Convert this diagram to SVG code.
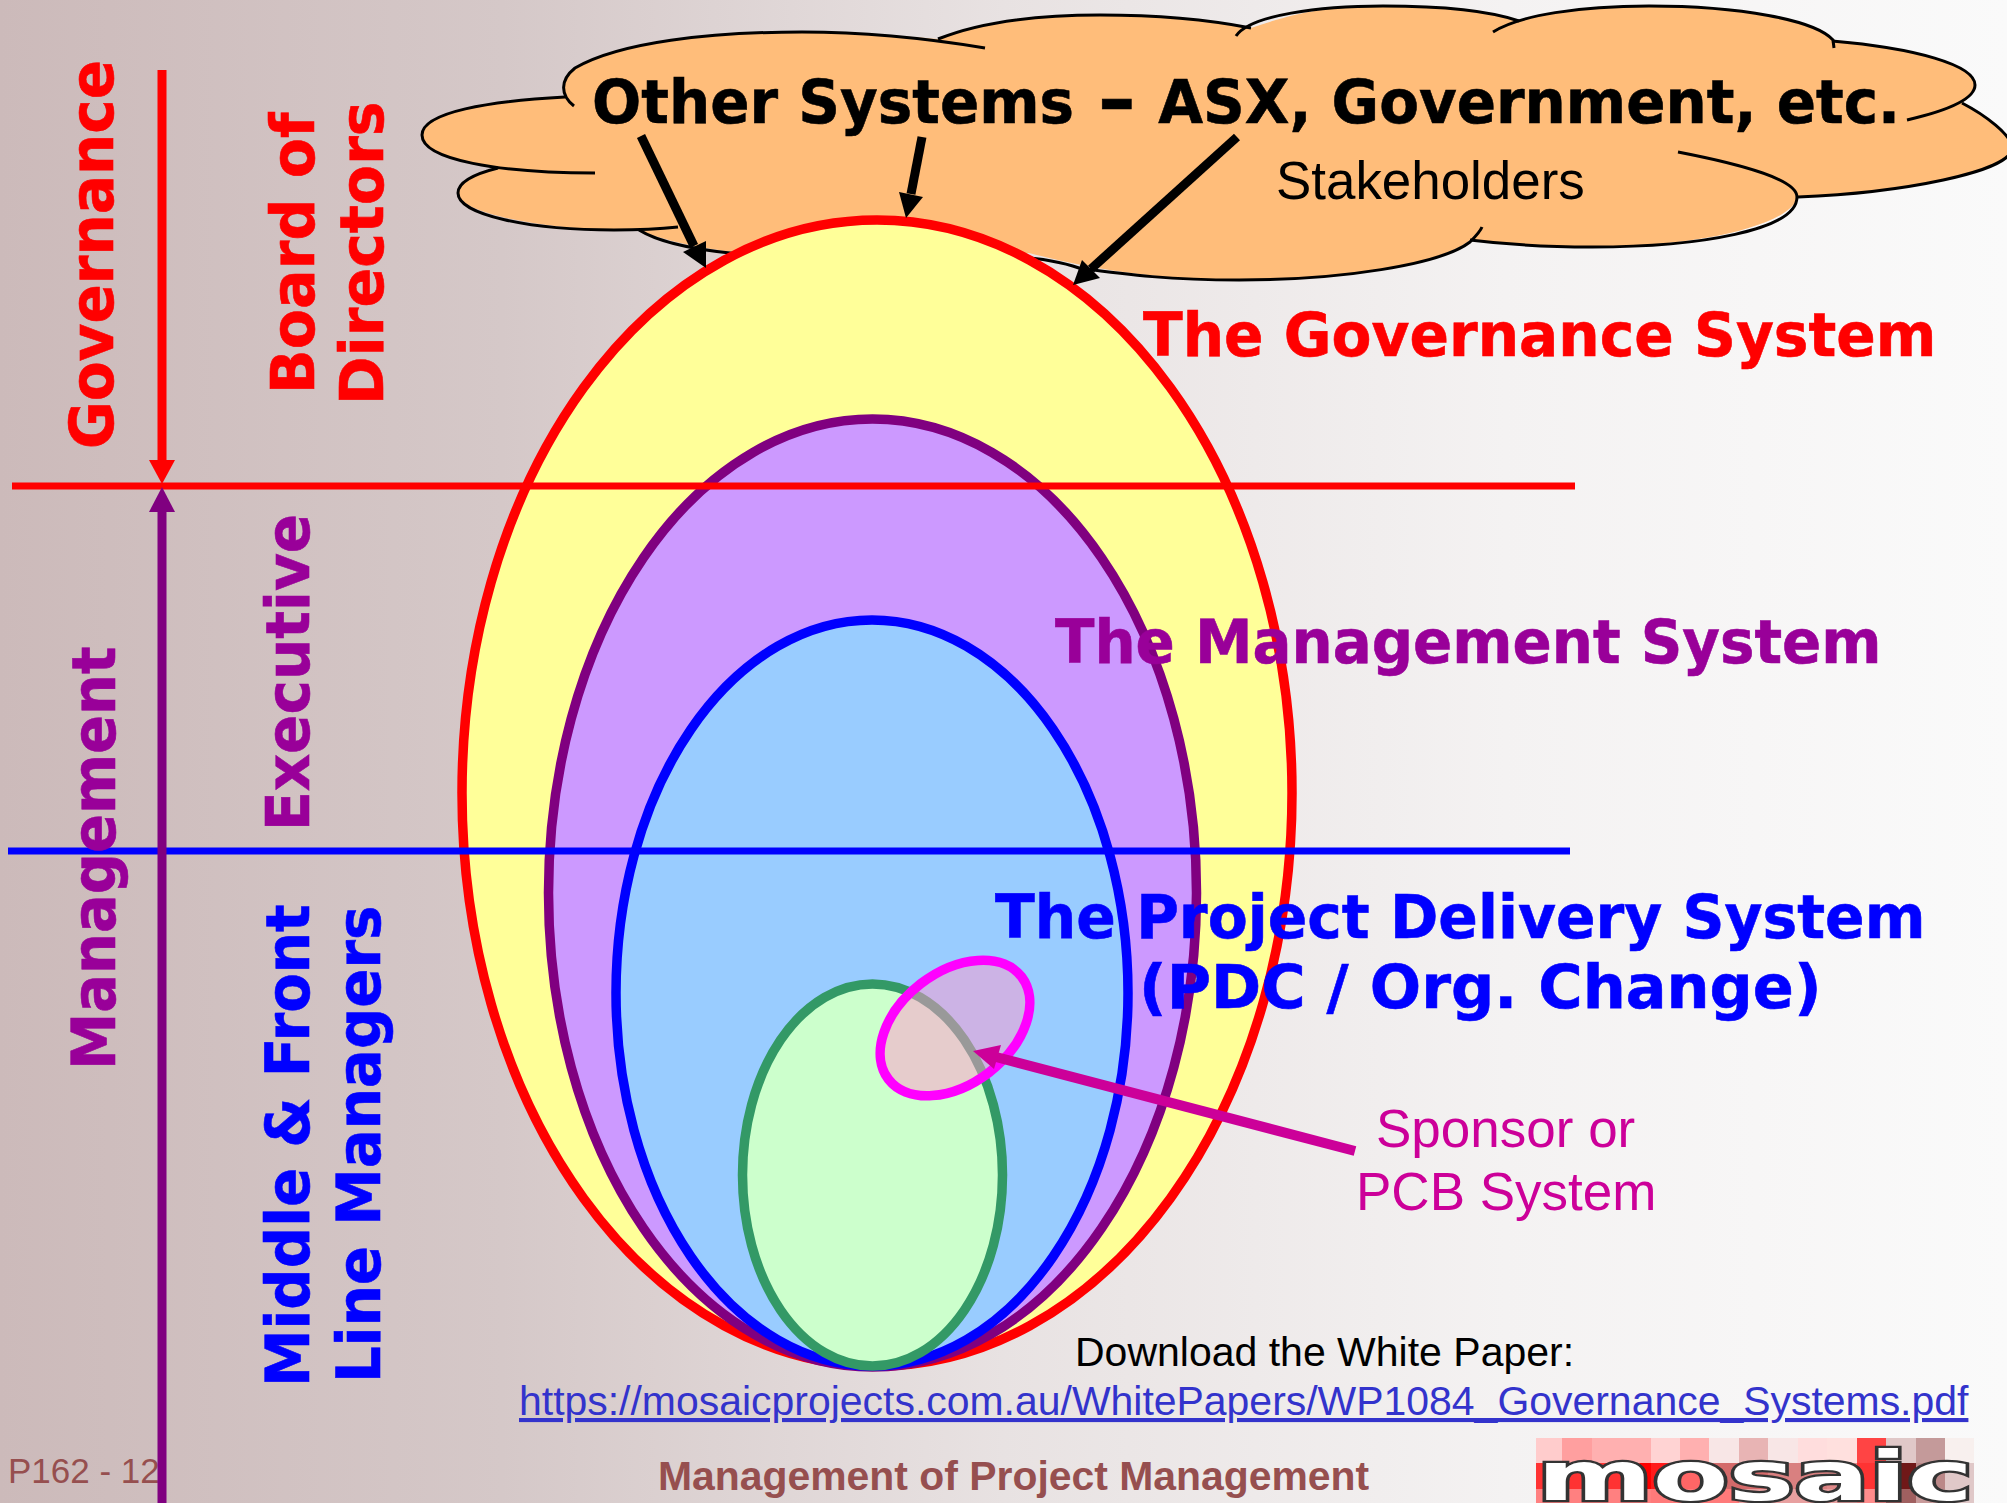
<svg xmlns="http://www.w3.org/2000/svg" width="2007" height="1503" viewBox="0 0 2007 1503">
<style>
.h{font-family:"DejaVu Sans",sans-serif;font-weight:700;font-size:60px;stroke-width:.6}
.b{font-family:"Liberation Sans",Arial,sans-serif}
.r{fill:#ff0000;stroke:#ff0000}
.p{fill:#990099;stroke:#990099}
.u{fill:#0000ff;stroke:#0000ff}
.k{fill:#000;stroke:#000}
.cl{fill:none;stroke:#000;stroke-width:3}
.e{stroke-width:9.5}
.m{fill:#cc0099;font-size:53px}
.f{fill:#964f4f}
</style>
<defs>
<linearGradient id="bg" x1="0" x2="1" y1="0" y2="0">
<stop offset="0" stop-color="#ccbaba"/><stop offset="0.25" stop-color="#d5c8c8"/><stop offset="0.5" stop-color="#e8e2e2"/><stop offset="0.75" stop-color="#f4f2f2"/><stop offset="1" stop-color="#fafafa"/>
</linearGradient>
</defs>
<rect width="2007" height="1503" fill="url(#bg)"/>
<g id="cloud">
<path fill="#ffbd7a" d="M574 106C560 95 560 80 575 68C620 42 710 32 802 32C860 32 900 36 938 39C980 22 1040 15 1100 15C1160 15 1210 20 1251 28C1290 15 1320 6 1383 6C1440 6 1490 11 1519 21C1550 12 1580 6 1649 6C1740 6 1815 20 1833 40C1915 48 1975 65 1975 85C1975 92 1970 98 1962 103C1985 115 2012 135 2012 148C2012 172 1900 193 1798 197C1790 225 1700 247 1592 247C1550 247 1510 245 1470 240C1440 265 1340 280 1239 280C1170 280 1100 272 1029 253C900 262 720 265 639 230C560 232 458 215 458 193C458 184 470 175 498 168C450 160 422 150 422 135C422 112 490 101 565 97Z"/>
<path class="cl" d="M574 106C560 95 560 80 575 68C620 42 710 32 802 32C860 32 925 38 985 48"/>
<path class="cl" d="M565 97C490 101 422 112 422 135C422 160 500 173 595 173"/>
<path class="cl" d="M498 168C470 175 458 184 458 193C458 215 530 230 614 230C640 230 660 229 678 227"/>
<path class="cl" d="M639 230C660 243 700 250 730 253C850 270 1000 240 1079 268C1130 275 1170 280 1239 280C1340 280 1440 265 1470 242C1476 236 1480 232 1482 227"/>
<path class="cl" d="M1470 240C1510 245 1550 247 1592 247C1700 247 1797 230 1797 197C1797 180 1745 165 1678 152"/>
<path class="cl" d="M1798 197C1900 193 2012 172 2012 148C2012 135 1985 115 1962 103"/>
<path class="cl" d="M1907 120C1950 110 1975 98 1975 85C1975 65 1915 48 1832 41"/>
<path class="cl" d="M1834 48L1833 40C1815 20 1740 6 1649 6C1580 6 1520 15 1493 32"/>
<path class="cl" d="M1519 21C1490 11 1440 6 1383 6C1320 6 1250 15 1236 36"/>
<path class="cl" d="M1251 28C1210 20 1160 15 1100 15C1040 15 980 22 938 39"/>
<text class="b" x="1276" y="199" font-size="52.9" fill="#000">Stakeholders</text>
</g>
<g id="governance-system"><ellipse class="e" cx="877" cy="793" rx="415" ry="573" fill="#ffff99" stroke="#ff0000"/></g>
<g id="management-system"><ellipse class="e" cx="872.5" cy="893" rx="324" ry="474" fill="#cc99ff" stroke="#800080"/></g>
<g id="delivery-system"><ellipse class="e" cx="872" cy="993" rx="256" ry="373" fill="#99ccff" stroke="#0000ff"/></g>
<g id="project-system"><ellipse class="e" cx="872.5" cy="1175" rx="130" ry="191" fill="#ccffcc" stroke="#339966"/></g>
<g id="sponsor-system"><ellipse cx="955" cy="1028" rx="84" ry="56" transform="rotate(-37.6 955 1028)" fill="#ff99cc" fill-opacity="0.5" stroke="#ff00ff" stroke-width="9.5"/></g>
<text id="page-number" class="b f" x="8" y="1483" font-size="35">P162 - 12</text>
<g id="connectors">
<path d="M12 486H1575" stroke="#ff0000" stroke-width="7"/>
<path d="M8 851H1570" stroke="#0000ff" stroke-width="7"/>
<path d="M162 70V462" stroke="#ff0000" stroke-width="9"/>
<path d="M149 460H175L162 484Z" fill="#ff0000"/>
<path d="M162 1503V510" stroke="#800080" stroke-width="9"/>
<path d="M149 512H175L162 487Z" fill="#800080"/>
<path d="M641 136L694 246" stroke="#000" stroke-width="9"/>
<path d="M706 268L683 252L706 241Z" fill="#000"/>
<path d="M922 137L911 194" stroke="#000" stroke-width="9"/>
<path d="M906 218L899 192L923 197Z" fill="#000"/>
<path d="M1237 137L1091 269" stroke="#000" stroke-width="9"/>
<path d="M1073 285L1082 260L1100 278Z" fill="#000"/>
<path d="M1355 1151L996 1057" stroke="#cc0099" stroke-width="10"/>
<path d="M973 1051L1001 1045L994 1069Z" fill="#cc0099"/>
</g>
<g id="labels">
<text class="h k" transform="translate(592 123) scale(.95 1)" style="font-size:61px">Other Systems<tspan x="533" dy="3" style="font-size:78px">–</tspan><tspan x="596" dy="-3"> </tspan><tspan x="596">ASX, Government, etc.</tspan></text>
<text class="h r" transform="translate(1143 356) scale(.97 1)">The Governance System</text>
<text class="h p" transform="translate(1055 663) scale(.964 1)">The Management System</text>
<text class="h u" transform="translate(995 938) scale(.972 1)">The Project Delivery System</text>
<text class="h u" transform="translate(1139 1008) scale(1.008 1)">(PDC / Org. Change)</text>
<text class="b m" x="1376" y="1147">Sponsor or</text>
<text class="b m" x="1356" y="1210">PCB System</text>
<text class="b" x="1075" y="1366" font-size="41" fill="#000">Download the White Paper:</text>
<text class="b" x="519" y="1415" font-size="40.95" fill="#3333cc" text-decoration="underline">https://mosaicprojects.com.au/WhitePapers/WP1084_Governance_Systems.pdf</text>
<text class="b f" x="658" y="1490" font-size="40.9" font-weight="700">Management of Project Management</text>
<text class="h r" transform="translate(113 449) rotate(-90) scale(.968 1)">Governance</text>
<text class="h r" transform="translate(314 394) rotate(-90) scale(.977 1)">Board of</text>
<text class="h r" transform="translate(383 405) rotate(-90) scale(.975 1)">Directors</text>
<text class="h p" transform="translate(309 831) rotate(-90) scale(.968 1)">Executive</text>
<text class="h p" transform="translate(115 1070) rotate(-90) scale(.959 1)">Management</text>
<text class="h u" transform="translate(309 1387) rotate(-90) scale(.964 1)">Middle &amp; Front</text>
<text class="h u" transform="translate(380 1383) rotate(-90) scale(.964 1)">Line Managers</text>
</g>
<g id="logo">
<g shape-rendering="crispEdges">
<rect x="1536" y="1438" width="26" height="25" fill="#ffcccc"/><rect x="1562" y="1438" width="30" height="25" fill="#ff9f9f"/><rect x="1592" y="1438" width="59" height="25" fill="#ffb0b0"/><rect x="1651" y="1438" width="29" height="25" fill="#ffd3d3"/><rect x="1680" y="1438" width="29" height="25" fill="#ffb0b0"/><rect x="1709" y="1438" width="30" height="25" fill="#f8e6e6"/><rect x="1739" y="1438" width="29" height="25" fill="#e8b4b4"/><rect x="1768" y="1438" width="30" height="25" fill="#f8e6e6"/><rect x="1798" y="1438" width="29" height="25" fill="#ffdddd"/><rect x="1827" y="1438" width="30" height="25" fill="#ffe0de"/><rect x="1857" y="1438" width="29" height="25" fill="#ff4444"/><rect x="1886" y="1438" width="30" height="25" fill="#e0c8c8"/><rect x="1916" y="1438" width="29" height="25" fill="#c49a9a"/><rect x="1945" y="1438" width="29" height="25" fill="#f8f0ee"/>
<rect x="1536" y="1463" width="115" height="26" fill="#ff3333"/><rect x="1640" y="1463" width="11" height="26" fill="#ff0000"/><rect x="1651" y="1463" width="29" height="26" fill="#ff1a1a"/><rect x="1680" y="1463" width="29" height="26" fill="#ff6666"/><rect x="1709" y="1463" width="59" height="26" fill="#d46a6a"/><rect x="1768" y="1463" width="59" height="26" fill="#d98080"/><rect x="1827" y="1463" width="30" height="26" fill="#e08a8a"/><rect x="1857" y="1463" width="29" height="26" fill="#ff3333"/><rect x="1886" y="1463" width="30" height="26" fill="#701818"/><rect x="1916" y="1463" width="29" height="26" fill="#bb8888"/><rect x="1945" y="1463" width="29" height="26" fill="#e0c8c8"/>
<rect x="1536" y="1489" width="115" height="14" fill="#ff8080"/><rect x="1651" y="1489" width="88" height="14" fill="#ff7a7a"/><rect x="1739" y="1489" width="118" height="14" fill="#e8a0a0"/><rect x="1857" y="1489" width="29" height="14" fill="#ff8c8c"/><rect x="1886" y="1489" width="30" height="14" fill="#a06060"/><rect x="1916" y="1489" width="29" height="14" fill="#c89a9a"/><rect x="1945" y="1489" width="29" height="14" fill="#e0c8c8"/>
</g>
<text x="1537" y="1500" font-family="DejaVu Sans" font-weight="700" font-size="68" textLength="436" lengthAdjust="spacingAndGlyphs" fill="#fff" stroke="#333" stroke-width="4.5" paint-order="stroke">mosaic</text>
</g>
</svg>
